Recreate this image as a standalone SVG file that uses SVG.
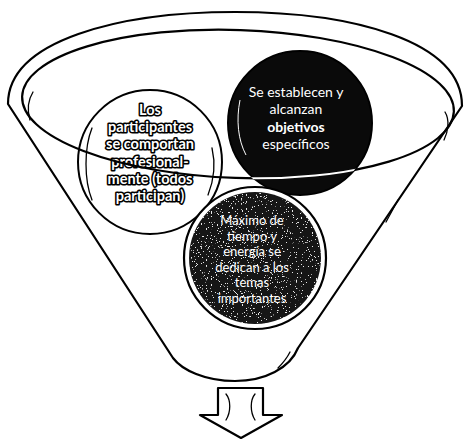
<svg xmlns="http://www.w3.org/2000/svg" width="466" height="439" viewBox="0 0 466 439">
<style>
.ln{fill:none;stroke:#000;stroke-width:2.2;stroke-linecap:round;stroke-linejoin:round}
.th{fill:none;stroke:#000;stroke-width:1.3;stroke-linecap:round}
.tw{font-family:Lato,"Liberation Sans",sans-serif;font-size:14px;fill:#fff;text-anchor:middle}
.tb{font-family:Lato,"Liberation Sans",sans-serif;font-size:13px;fill:#fff;text-anchor:middle}
.to{font-family:Lato,"Liberation Sans",sans-serif;font-size:14.5px;font-weight:bold;fill:#fff;stroke:#000;stroke-width:3.2;paint-order:stroke;stroke-linejoin:round;text-anchor:middle}
</style>
<defs>
<filter id="speck" x="0" y="0" width="1" height="1">
<feTurbulence type="fractalNoise" baseFrequency="0.8" numOctaves="2" seed="3" result="n"/>
<feColorMatrix in="n" type="matrix" values="0 0 0 0 0.8  0 0 0 0 0.8  0 0 0 0 0.8  26 0 0 0 -17.5" result="w"/>
<feComposite in="w" in2="SourceGraphic" operator="in" result="wc"/>
<feMerge><feMergeNode in="SourceGraphic"/><feMergeNode in="wc"/></feMerge>
</filter>
<clipPath id="rc"><circle cx="300" cy="123" r="71"/></clipPath>
</defs>
<rect width="466" height="439" fill="#fff"/>
<g id="funnel">
<path class="ln" d="M8 104 C 8 40 120 12 235 12 C 350 12 462 40 462 106 L 298 348 C 290 368 265 381 235 381 C 205 381 182 370 173 358 Z" fill="#fff"/>
<path class="th" d="M30 120 C 27 110 28 100 33 92"/>
<path class="th" d="M445 112 C 450 120 448 132 444 140"/>
<path class="th" d="M398 200 L 386 222"/>
<path class="th" d="M290 352 C 286 360 282 364 278 368"/>
</g>
<g id="n1">
<circle cx="150" cy="162" r="72" fill="#fff" stroke="#000" stroke-width="2"/>
<path class="th" d="M92 128 C 84 148 84 180 92 200"/>
<path class="th" d="M212 148 C 216 165 214 180 208 195"/>
<text class="to" x="150" y="115">Los</text>
<text class="to" x="150" y="132">participantes</text>
<text class="to" x="150" y="149">se comportan</text>
<text class="to" x="150" y="167">profesional-</text>
<text class="to" x="150" y="184">mente (todos</text>
<text class="to" x="150" y="201">participan)</text>
</g>
<g id="n2">
<circle cx="300" cy="123" r="72" fill="#0a0a0a" stroke="#000" stroke-width="2"/>
<path d="M240 100 C 236 120 238 140 246 155" fill="none" stroke="#fff" stroke-width="1"/>
<text class="tw" x="296" y="97">Se establecen y</text>
<text class="tw" x="296" y="114">alcanzan</text>
<text class="tw" x="296" y="132" font-weight="bold">objetivos</text>
<text class="tw" x="296" y="149">específicos</text>
</g>
<g id="n3">
<circle cx="255" cy="258" r="71" fill="#fff" stroke="#000" stroke-width="2.2"/>
<circle cx="255" cy="258" r="66" fill="#151515" filter="url(#speck)"/>
<text class="tb" x="252" y="225">Máximo de</text>
<text class="tb" x="252" y="240.5">tiempo y</text>
<text class="tb" x="252" y="256">energía se</text>
<text class="tb" x="252" y="271.5">dedican a los</text>
<text class="tb" x="252" y="287">temas</text>
<text class="tb" x="252" y="302.5">importantes</text>
</g>
<g id="rim">
<ellipse class="ln" cx="238" cy="104" rx="216" ry="74" transform="rotate(2 238 104)"/>
<ellipse cx="238" cy="104" rx="216" ry="74" transform="rotate(2 238 104)" fill="none" stroke="#fff" stroke-width="2" clip-path="url(#rc)"/>
</g>
<g id="arrow">
<path class="ln" d="M218 388 L 263 388 L 263 415 L 282 415 L 241 438 L 200 415 L 218 415 Z" fill="#fff"/>
<path class="th" d="M226 394 C 231 400 231 412 226 420"/>
<path class="th" d="M255 394 C 250 400 250 412 255 420"/>
</g>
</svg>
